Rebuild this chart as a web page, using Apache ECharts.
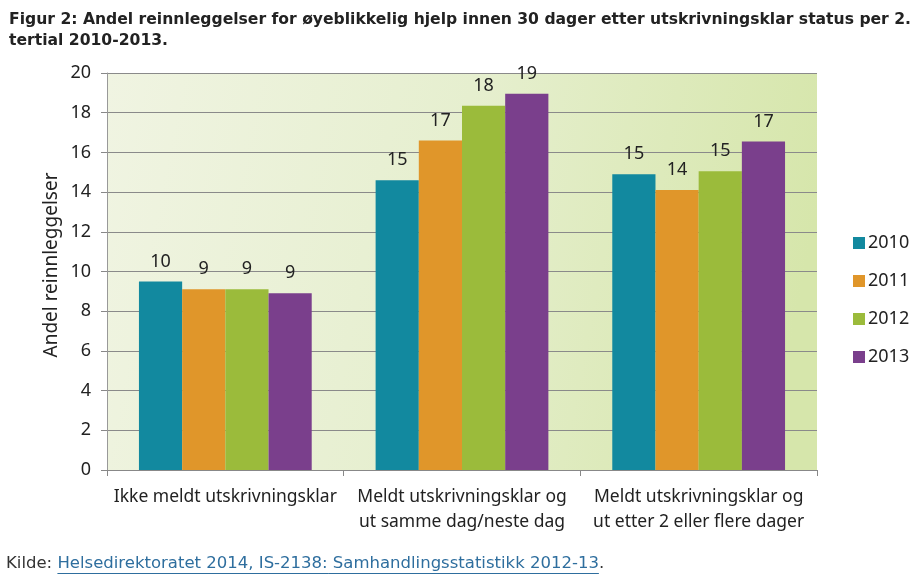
<!DOCTYPE html>
<html><head><meta charset="utf-8">
<script src="https://cdn.jsdelivr.net/npm/echarts@6/dist/echarts.min.js"></script>
<style>html,body{margin:0;padding:0;background:#fff}#c{width:923px;height:577px}</style>
</head><body><div id="c"></div>
<script>
const categories = ['Ikke meldt utskrivningsklar', 'Meldt utskrivningsklar og\nut samme dag/neste dag', 'Meldt utskrivningsklar og\nut etter 2 eller flere dager'];
const years = ['2010', '2011', '2012', '2013'];
const v2010 = [9.5, 14.6, 14.9];
const v2011 = [9.1, 16.6, 14.1];
const v2012 = [9.1, 18.35, 15.05];
const v2013 = [8.9, 18.95, 16.55];
const yTicks = [0, 2, 4, 6, 8, 10, 12, 14, 16, 18, 20];
const colors = ['#12899f', '#e0962a', '#9bbb3b', '#7a3f8c'];
const values = [v2010, v2011, v2012, v2013];

const footFont = '16.5px "DejaVu Sans"';
const ctx = document.createElement('canvas').getContext('2d');
ctx.font = footFont;
const kildeText = 'Kilde: ';
const linkText = 'Helsedirektoratet 2014, IS-2138: Samhandlingsstatistikk 2012-13';
const linkX = 6 + ctx.measureText(kildeText).width;
const linkEnd = linkX + ctx.measureText(linkText).width;

const chart = echarts.init(document.getElementById('c'), null, {renderer: 'canvas'});
const labelFont = 'Noto Sans';
chart.setOption({
  animation: false,
  color: colors,
  title: {
    text: 'Figur 2: Andel reinnleggelser for øyeblikkelig hjelp innen 30 dager etter utskrivningsklar status per 2.\ntertial 2010-2013.',
    left: 4, top: 4,
    textStyle: {fontFamily: 'DejaVu Sans', fontWeight: 'bold', fontSize: 15.6, color: '#222', lineHeight: 21}
  },
  grid: {
    left: 107, right: 106, top: 73, bottom: 107, show: true, borderWidth: 0,
    backgroundColor: new echarts.graphic.LinearGradient(0, 0, 1, 0.35, [
      {offset: 0, color: '#f0f4e2'}, {offset: 0.5, color: '#e6efcf'}, {offset: 1, color: '#d6e6ab'}])
  },
  legend: {
    orient: 'vertical', left: 848, top: 229, itemGap: 20, itemWidth: 12, itemHeight: 12,
    icon: 'rect', data: years,
    textStyle: {fontFamily: labelFont, fontSize: 18, color: '#222', padding: [0, 0, 0, -2]}
  },
  xAxis: {
    type: 'category', data: categories,
    axisLine: {lineStyle: {color: '#888'}},
    axisTick: {show: true, length: 6, lineStyle: {color: '#888'}},
    axisLabel: {interval: 0, fontFamily: labelFont, fontSize: 17.5, color: '#222', margin: 15, lineHeight: 25}
  },
  yAxis: {
    type: 'value', min: yTicks[0], max: yTicks[yTicks.length - 1], interval: 2,
    axisLine: {show: true, lineStyle: {color: '#999'}},
    axisTick: {show: true, length: 6, lineStyle: {color: '#888'}},
    axisLabel: {fontFamily: labelFont, fontSize: 18, color: '#222', margin: 16},
    splitLine: {lineStyle: {color: '#8a8a8a', width: 1}}
  },
  series: years.map((y, i) => ({
    name: y, type: 'bar', data: values[i], barGap: '0%', barCategoryGap: '27%',
    itemStyle: {color: colors[i]},
    label: {show: true, position: 'top', distance: 11, fontFamily: labelFont, fontSize: 18, color: '#222',
      formatter: p => Math.round(p.value)}
  })),
  graphic: [
    {type: 'text', x: 52, y: 265, rotation: Math.PI / 2,
      style: {text: 'Andel reinnleggelser', font: '19px "Noto Sans"', fill: '#222', align: 'center', verticalAlign: 'middle'}},
    {type: 'text', x: 6, y: 564, style: {text: kildeText, font: footFont, fill: '#333', verticalAlign: 'middle'}},
    {type: 'text', x: linkX, y: 564, style: {text: linkText, font: footFont, fill: '#2e6e9e', verticalAlign: 'middle'}},
    {type: 'text', x: linkEnd, y: 564, style: {text: '.', font: footFont, fill: '#333', verticalAlign: 'middle'}},
    {type: 'line', shape: {x1: linkX, y1: 573.5, x2: linkEnd, y2: 573.5}, style: {stroke: '#2e6e9e', lineWidth: 1}}
  ]
});
</script></body></html>
